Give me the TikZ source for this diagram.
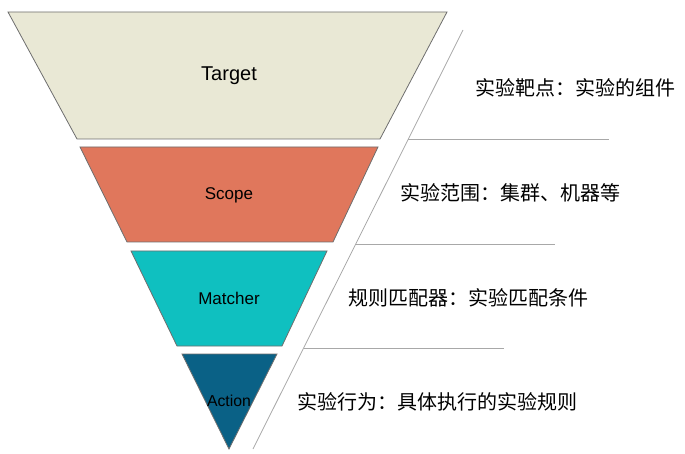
\documentclass[tikz,border=0pt]{standalone}
\usepackage{fontspec}
\setmainfont{Liberation Sans}
\newfontfamily\cjk{Noto Sans CJK SC}
\definecolor{tgtcol}{HTML}{E9E8D5}
\definecolor{scpcol}{HTML}{E0775C}
\definecolor{matcol}{HTML}{0FC0C0}
\definecolor{actcol}{HTML}{0A6186}
\definecolor{edgecol}{HTML}{6E6E6E}
\definecolor{rulecol}{HTML}{A8A8A8}
\begin{document}
\begin{tikzpicture}[x=1pt,y=-1pt,
  layer/.style={draw=edgecol,line width=0.8pt,line join=miter},
  lbl/.style={inner sep=0pt,text=black},
  desc/.style={inner sep=0pt,anchor=west,text=black,font=\cjk\fontsize{20}{23}\selectfont},
  rule/.style={draw=rulecol,line width=0.8pt}]
\useasboundingbox (0,0) rectangle (685,454);
% layers
\draw[layer,fill=tgtcol] (8,12) -- (447,12) -- (380,139) -- (77,139) -- cycle;
\draw[layer,fill=scpcol] (80,147) -- (378,147) -- (333,242) -- (127,242) -- cycle;
\draw[layer,fill=matcol] (131,251) -- (327,251) -- (282,346) -- (177,346) -- cycle;
\draw[layer,fill=actcol] (182,354) -- (277,354) -- (229,449) -- cycle;
% labels
\node[lbl,font=\fontsize{20}{24}\selectfont] (target) at (229,76) {Target};
\node[lbl,font=\fontsize{17}{20}\selectfont] (scope) at (229,195) {Scope};
\node[lbl,font=\fontsize{17}{20}\selectfont] (matcher) at (229,298) {Matcher};
\node[lbl,font=\fontsize{15.8}{19}\selectfont] (action) at (229,401) {Action};
% diagonal and rules
\coordinate (dtop) at (463,30);
\coordinate (dbot) at (253,449);
\draw[rule] (dtop) -- (dbot);
\coordinate (r1a) at (408,139); \coordinate (r1b) at (609,139);
\coordinate (r2a) at (356,244); \coordinate (r2b) at (555,244);
\coordinate (r3a) at (304,348); \coordinate (r3b) at (504,348);
\draw[rule] (r1a) -- (r1b);
\draw[rule] (r2a) -- (r2b);
\draw[rule] (r3a) -- (r3b);
% descriptions
\node[desc] (d1) at (475,88) {实验靶点：实验的组件};
\node[desc] (d2) at (400,193) {实验范围：集群、机器等};
\node[desc] (d3) at (348,298) {规则匹配器：实验匹配条件};
\node[desc] (d4) at (297,402) {实验行为：具体执行的实验规则};
\end{tikzpicture}
\end{document}
